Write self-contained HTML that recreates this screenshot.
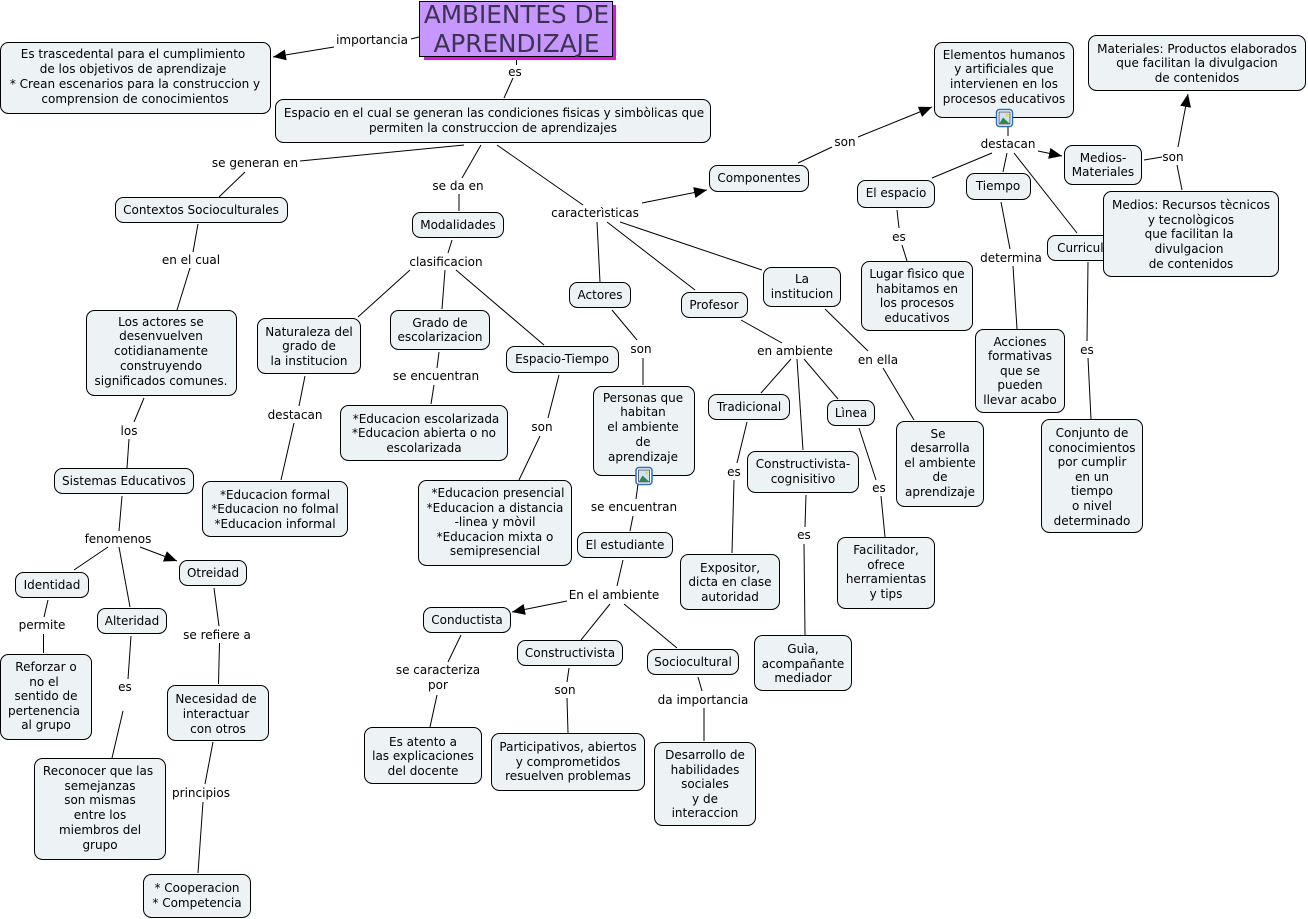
<!DOCTYPE html>
<html><head><meta charset="utf-8">
<style>
html,body{margin:0;padding:0;background:#fff;width:1308px;height:919px;overflow:hidden}
svg{display:block}
text{font-family:"DejaVu Sans",sans-serif;font-size:12px;fill:#000;text-anchor:middle}
.n{fill:#edf3f5;stroke:#000;stroke-width:1}
.l line{stroke:#000;stroke-width:1}
.a{marker-end:url(#ar)}
</style></head><body>
<svg width="1308" height="919" viewBox="0 0 1308 919" xmlns="http://www.w3.org/2000/svg">
<defs><marker id="ar" markerUnits="userSpaceOnUse" markerWidth="14" markerHeight="12" refX="13" refY="5.5" orient="auto"><path d="M0 0L13 5.5L0 11z" fill="#000"/></marker></defs>
<g class="l">
<line x1="411" y1="39" x2="419" y2="37"/><line class="a" x1="334" y1="47" x2="273" y2="57"/>
<line x1="516.5" y1="60" x2="516.5" y2="65"/><line x1="513" y1="78" x2="504" y2="98"/>
<line x1="300" y1="161" x2="464" y2="145"/><line x1="245" y1="172" x2="219" y2="197"/>
<line x1="481" y1="145" x2="462" y2="178"/><line x1="459" y1="194" x2="459" y2="211"/>
<line x1="497" y1="145" x2="583" y2="205"/><line class="a" x1="642" y1="203" x2="707" y2="190"/>
<line x1="597" y1="222" x2="600" y2="282"/><line x1="607" y1="222" x2="695" y2="290"/><line x1="620" y1="222" x2="762" y2="270"/>
<line x1="198" y1="224" x2="193" y2="252"/><line x1="190" y1="268" x2="177" y2="310"/>
<line x1="144" y1="398" x2="134" y2="422"/><line x1="129" y1="439" x2="127" y2="468"/>
<line x1="122" y1="496" x2="119" y2="531"/><line x1="108" y1="547" x2="74" y2="570"/><line x1="119" y1="547" x2="130" y2="607"/><line class="a" x1="140" y1="547" x2="177" y2="561"/>
<line x1="48" y1="600" x2="44" y2="617"/><line x1="43.500" y1="634" x2="43.500" y2="653"/>
<line x1="131" y1="636" x2="128" y2="679"/><line x1="123" y1="711" x2="112" y2="758"/>
<line x1="214" y1="588" x2="219" y2="626"/><line x1="219.500" y1="643" x2="218.500" y2="684"/>
<line x1="213" y1="742" x2="205" y2="784"/><line x1="203" y1="802" x2="198" y2="873"/>
<line x1="452" y1="240" x2="448" y2="253"/><line x1="410" y1="270" x2="358" y2="317"/><line x1="445" y1="270" x2="442" y2="309"/><line x1="456" y1="270" x2="544" y2="345"/>
<line x1="305" y1="376" x2="299" y2="406"/><line x1="294" y1="423" x2="281" y2="480"/>
<line x1="439" y1="352" x2="437" y2="368"/><line x1="434" y1="385" x2="431" y2="404"/>
<line x1="559" y1="375" x2="548" y2="418"/><line x1="540" y1="436" x2="519" y2="480"/>
<line x1="612" y1="310" x2="637" y2="340"/><line x1="643" y1="358" x2="643" y2="385"/>
<line x1="638" y1="484" x2="636" y2="499"/><line x1="633" y1="516" x2="630" y2="531"/>
<line x1="623" y1="560" x2="617" y2="586"/><line class="a" x1="567" y1="601" x2="512" y2="612"/><line x1="610" y1="604" x2="581" y2="640"/><line x1="624" y1="604" x2="677" y2="648"/>
<line x1="461" y1="635" x2="448" y2="662"/><line x1="437" y1="695" x2="430" y2="727"/>
<line x1="569" y1="668" x2="567" y2="682"/><line x1="567" y1="698" x2="568" y2="733"/>
<line x1="698" y1="677" x2="702" y2="691"/><line x1="704" y1="708" x2="704" y2="741"/>
<line x1="741" y1="320" x2="782" y2="343"/><line x1="791" y1="359" x2="761" y2="393"/><line x1="797" y1="359" x2="803" y2="450"/><line x1="804" y1="359" x2="838" y2="399"/>
<line x1="747" y1="422" x2="737" y2="463"/><line x1="734" y1="480" x2="732" y2="553"/>
<line x1="806" y1="495" x2="805" y2="527"/><line x1="804" y1="544" x2="805" y2="635"/>
<line x1="859" y1="428" x2="876" y2="480"/><line x1="881" y1="496" x2="885" y2="537"/>
<line x1="825" y1="309" x2="868" y2="351"/><line x1="883" y1="368" x2="914" y2="420"/>
<line x1="798" y1="163" x2="832" y2="147"/><line class="a" x1="858" y1="137" x2="932" y2="107"/>
<line x1="1008" y1="127" x2="1008" y2="136"/><line x1="992" y1="153" x2="932" y2="178"/><line x1="1007" y1="153" x2="1003" y2="172"/><line x1="1014" y1="153" x2="1077" y2="233"/><line class="a" x1="1038" y1="151" x2="1062" y2="156"/>
<line x1="1144" y1="160" x2="1162" y2="157"/><line class="a" x1="1178" y1="147" x2="1188" y2="94"/><line x1="1182" y1="190" x2="1177" y2="165"/>
<line x1="897" y1="210" x2="899" y2="228"/><line x1="902" y1="245" x2="907" y2="261"/>
<line x1="1001" y1="202" x2="1010" y2="249"/><line x1="1013" y1="266" x2="1017" y2="329"/>
<line x1="1088" y1="262" x2="1087" y2="341"/><line x1="1088" y1="358" x2="1091" y2="419"/>
</g>

<!-- title -->
<rect x="424" y="5" width="192" height="55" fill="#e010e0"/>
<rect x="419.500" y="1.500" width="193" height="55" fill="#c896ff" stroke="#000"/>
<text x="516.500" y="23" style="font-size:24.7px;fill:#3c3350">AMBIENTES DE</text>
<text x="516.500" y="52" style="font-size:24.7px;fill:#3c3350">APRENDIZAJE</text>

<!-- nodes -->
<rect class="n" x="0.500" y="42.500" width="270" height="71" rx="8"/>
<rect class="n" x="275.500" y="99.500" width="435" height="43" rx="8"/>
<rect class="n" x="115.500" y="197.500" width="172" height="25" rx="8"/>
<rect class="n" x="412.500" y="212.500" width="91" height="25" rx="8"/>
<rect class="n" x="709.500" y="165.500" width="99" height="26" rx="8"/>
<rect class="n" x="86.500" y="310.500" width="150" height="85" rx="8"/>
<rect class="n" x="54.500" y="468.500" width="139" height="25" rx="8"/>
<rect class="n" x="257.500" y="318.500" width="103" height="55" rx="8"/>
<rect class="n" x="390.500" y="310.500" width="99" height="39" rx="8"/>
<rect class="n" x="506.500" y="346.500" width="112" height="26" rx="8"/>
<rect class="n" x="569.500" y="282.500" width="61" height="25" rx="8"/>
<rect class="n" x="681.500" y="292.500" width="66" height="25" rx="8"/>
<rect class="n" x="763.500" y="267.500" width="77" height="39" rx="8"/>
<rect class="n" x="340.500" y="405.500" width="167" height="55" rx="8"/>
<rect class="n" x="202.500" y="481.500" width="145" height="55" rx="8"/>
<rect class="n" x="418.500" y="480.500" width="153" height="85" rx="8"/>
<rect class="n" x="593.500" y="386.500" width="101" height="89" rx="8"/>
<rect class="n" x="577.500" y="532.500" width="95" height="25" rx="8"/>
<rect class="n" x="15.500" y="572.500" width="73" height="25" rx="8"/>
<rect class="n" x="97.500" y="608.500" width="69" height="25" rx="8"/>
<rect class="n" x="179.500" y="560.500" width="67" height="25" rx="8"/>
<rect class="n" x="0.500" y="654.500" width="91" height="85" rx="8"/>
<rect class="n" x="34.500" y="758.500" width="131" height="101" rx="8"/>
<rect class="n" x="167.500" y="685.500" width="101" height="55" rx="8"/>
<rect class="n" x="143.500" y="874.500" width="107" height="43" rx="8"/>
<rect class="n" x="423.500" y="607.500" width="87" height="25" rx="8"/>
<rect class="n" x="517.500" y="640.500" width="105" height="25" rx="8"/>
<rect class="n" x="647.500" y="649.500" width="91" height="25" rx="8"/>
<rect class="n" x="364.500" y="727.500" width="117" height="56" rx="8"/>
<rect class="n" x="491.500" y="733.500" width="153" height="57" rx="8"/>
<rect class="n" x="654.500" y="742.500" width="101" height="83" rx="8"/>
<rect class="n" x="708.500" y="394.500" width="81" height="25" rx="8"/>
<rect class="n" x="747.500" y="451.500" width="111" height="41" rx="8"/>
<rect class="n" x="827.500" y="400.500" width="47" height="25" rx="8"/>
<rect class="n" x="680.500" y="554.500" width="99" height="55" rx="8"/>
<rect class="n" x="754.500" y="635.500" width="97" height="55" rx="8"/>
<rect class="n" x="837.500" y="537.500" width="97" height="71" rx="8"/>
<rect class="n" x="896.500" y="421.500" width="87" height="85" rx="8"/>
<rect class="n" x="934.500" y="42.500" width="139" height="75" rx="8"/>
<rect class="n" x="1088.500" y="35.500" width="217" height="55" rx="8"/>
<rect class="n" x="857.500" y="180.500" width="77" height="27" rx="8"/>
<rect class="n" x="966.500" y="173.500" width="64" height="26" rx="8"/>
<rect class="n" x="1064.500" y="145.500" width="77" height="39" rx="8"/>
<rect class="n" x="1047.500" y="235.500" width="75" height="25" rx="8"/>
<text x="1084" y="252">Curriculo</text>
<rect class="n" x="1103.500" y="191.500" width="175" height="85" rx="8"/>
<rect class="n" x="861.500" y="261.500" width="111" height="69" rx="8"/>
<rect class="n" x="975.500" y="329.500" width="89" height="83" rx="8"/>
<rect class="n" x="1041.500" y="419.500" width="101" height="113" rx="8"/>

<!-- node text -->
<text x="133" y="58">Es trascedental para el cumplimiento</text>
<text x="133" y="73">de los objetivos de aprendizaje</text>
<text x="135" y="88">* Crean escenarios para la construccion y</text>
<text x="135" y="103">comprension de conocimientos</text>
<text x="494" y="117">Espacio en el cual se generan las condiciones fisicas y simbòlicas que</text>
<text x="493" y="132">permiten la construccion de aprendizajes</text>
<text x="201" y="214">Contextos Socioculturales</text>
<text x="458" y="229">Modalidades</text>
<text x="759" y="182">Componentes</text>
<text x="161" y="326">Los actores se</text>
<text x="161" y="340">desenvuelven</text>
<text x="161" y="355">cotidianamente</text>
<text x="161" y="370">construyendo</text>
<text x="161" y="385">significados comunes.</text>
<text x="124" y="485">Sistemas Educativos</text>
<text x="309" y="336">Naturaleza del</text>
<text x="309" y="350">grado de</text>
<text x="309" y="365">la institucion</text>
<text x="440" y="327">Grado de</text>
<text x="440" y="341">escolarizacion</text>
<text x="562" y="363">Espacio-Tiempo</text>
<text x="600" y="299">Actores</text>
<text x="714" y="309">Profesor</text>
<text x="802" y="283">La</text>
<text x="802" y="298">institucion</text>
<text x="426" y="423">*Educacion escolarizada</text>
<text x="424" y="437">*Educacion abierta o no</text>
<text x="424" y="452">escolarizada</text>
<text x="275" y="499">*Educacion formal</text>
<text x="275" y="513">*Educacion no folmal</text>
<text x="275" y="528">*Educacion informal</text>
<text x="498" y="497">*Educacion presencial</text>
<text x="495" y="512">*Educacion a distancia</text>
<text x="495" y="526">-linea y mòvil</text>
<text x="495" y="541">*Educacion mixta o</text>
<text x="495" y="555">semipresencial</text>
<text x="643" y="402">Personas que</text>
<text x="643" y="416">habitan</text>
<text x="643" y="431">el ambiente</text>
<text x="643" y="446">de</text>
<text x="643" y="461">aprendizaje</text>
<text x="625" y="549">El estudiante</text>
<text x="52" y="589">Identidad</text>
<text x="132" y="625">Alteridad</text>
<text x="213" y="577">Otreidad</text>
<text x="46" y="671">Reforzar o</text>
<text x="44" y="686">no el</text>
<text x="46" y="700">sentido de</text>
<text x="44" y="715">pertenencia</text>
<text x="46" y="729">al grupo</text>
<text x="98" y="775">Reconocer que las</text>
<text x="100" y="790">semejanzas</text>
<text x="100" y="804">son mismas</text>
<text x="100" y="819">entre los</text>
<text x="100" y="834">miembros del</text>
<text x="100" y="849">grupo</text>
<text x="216" y="703">Necesidad de</text>
<text x="216" y="718">interactuar</text>
<text x="218" y="733">con otros</text>
<text x="197" y="892">* Cooperacion</text>
<text x="197" y="907">* Competencia</text>
<text x="467" y="624">Conductista</text>
<text x="570" y="657">Constructivista</text>
<text x="693" y="666">Sociocultural</text>
<text x="423" y="746">Es atento a</text>
<text x="423" y="760">las explicaciones</text>
<text x="423" y="775">del docente</text>
<text x="568" y="751">Participativos, abiertos</text>
<text x="568" y="766">y comprometidos</text>
<text x="568" y="780">resuelven problemas</text>
<text x="705" y="759">Desarrollo de</text>
<text x="705" y="774">habilidades</text>
<text x="705" y="788">sociales</text>
<text x="705" y="803">y de</text>
<text x="705" y="817">interaccion</text>
<text x="749" y="411">Tradicional</text>
<text x="803" y="468">Constructivista-</text>
<text x="803" y="483">cognisitivo</text>
<text x="851" y="417">Lìnea</text>
<text x="730" y="572">Expositor,</text>
<text x="730" y="586">dicta en clase</text>
<text x="730" y="601">autoridad</text>
<text x="803" y="653">Guìa,</text>
<text x="803" y="668">acompañante</text>
<text x="803" y="682">mediador</text>
<text x="886" y="554">Facilitador,</text>
<text x="886" y="569">ofrece</text>
<text x="886" y="583">herramientas</text>
<text x="886" y="598">y tips</text>
<text x="938" y="438">Se</text>
<text x="940" y="452">desarrolla</text>
<text x="940" y="467">el ambiente</text>
<text x="940" y="481">de</text>
<text x="940" y="496">aprendizaje</text>
<text x="1004" y="59">Elementos humanos</text>
<text x="1004" y="73">y artificiales que</text>
<text x="1004" y="88">intervienen en los</text>
<text x="1004" y="103">procesos educativos</text>
<text x="1197" y="53">Materiales: Productos elaborados</text>
<text x="1197" y="67">que facilitan la divulgacion</text>
<text x="1197" y="82">de contenidos</text>
<text x="896" y="197">El espacio</text>
<text x="998" y="190">Tiempo</text>
<text x="1103" y="162">Medios-</text>
<text x="1103" y="176">Materiales</text>
<text x="1191" y="209">Medios: Recursos tècnicos</text>
<text x="1191" y="224">y tecnològicos</text>
<text x="1189" y="238">que facilitan la</text>
<text x="1189" y="253">divulgacion</text>
<text x="1191" y="268">de contenidos</text>
<text x="917" y="278">Lugar fìsico que</text>
<text x="917" y="293">habitamos en</text>
<text x="917" y="307">los procesos</text>
<text x="917" y="322">educativos</text>
<text x="1020" y="346">Acciones</text>
<text x="1020" y="360">formativas</text>
<text x="1020" y="375">que se</text>
<text x="1020" y="389">pueden</text>
<text x="1020" y="404">llevar acabo</text>
<text x="1092" y="437">Conjunto de</text>
<text x="1092" y="452">conocimientos</text>
<text x="1092" y="466">por cumplir</text>
<text x="1092" y="481">en un</text>
<text x="1092" y="495">tiempo</text>
<text x="1092" y="510">o nivel</text>
<text x="1092" y="525">determinado</text>

<!-- link labels -->
<text x="372" y="44">importancia</text>
<text x="515" y="76">es</text>
<text x="255" y="167">se generan en</text>
<text x="458" y="190">se da en</text>
<text x="595" y="217">caracterìsticas</text>
<text x="191" y="264">en el cual</text>
<text x="129" y="435">los</text>
<text x="118" y="543">fenomenos</text>
<text x="42" y="629">permite</text>
<text x="125" y="691">es</text>
<text x="217" y="639">se refiere a</text>
<text x="201" y="797">principios</text>
<text x="446" y="266">clasificacion</text>
<text x="295" y="419">destacan</text>
<text x="436" y="380">se encuentran</text>
<text x="542" y="431">son</text>
<text x="641" y="353">son</text>
<text x="634" y="511">se encuentran</text>
<text x="614" y="599">En el ambiente</text>
<text x="438" y="674">se caracteriza</text>
<text x="438" y="689">por</text>
<text x="565" y="694">son</text>
<text x="703" y="704">da importancia</text>
<text x="795" y="355">en ambiente</text>
<text x="734" y="476">es</text>
<text x="804" y="539">es</text>
<text x="879" y="492">es</text>
<text x="878" y="364">en ella</text>
<text x="845" y="146">son</text>
<text x="1008" y="148">destacan</text>
<text x="1173" y="161">son</text>
<text x="899" y="241">es</text>
<text x="1011" y="262">determina</text>
<text x="1087" y="354">es</text>

<!-- image icons -->
<g transform="translate(996,109)">
<rect x="0.500" y="0.500" width="16" height="17" rx="3" fill="#fff" stroke="#2a6fc0" stroke-width="1.500"/>
<rect x="3" y="3" width="11" height="12" fill="#cfe3f5" stroke="#333" stroke-width="0.700"/>
<circle cx="11" cy="6" r="1.600" fill="#f2d640"/>
<path d="M3.500 14.500L7 8.500L13.500 14.500z" fill="#2f8a4a"/>
</g>
<g transform="translate(635.500,467)">
<rect x="0.500" y="0.500" width="16" height="17" rx="3" fill="#fff" stroke="#2a6fc0" stroke-width="1.500"/>
<rect x="3" y="3" width="11" height="12" fill="#cfe3f5" stroke="#333" stroke-width="0.700"/>
<circle cx="11" cy="6" r="1.600" fill="#f2d640"/>
<path d="M3.500 14.500L7 8.500L13.500 14.500z" fill="#2f8a4a"/>
</g>
</svg>
</body></html>
